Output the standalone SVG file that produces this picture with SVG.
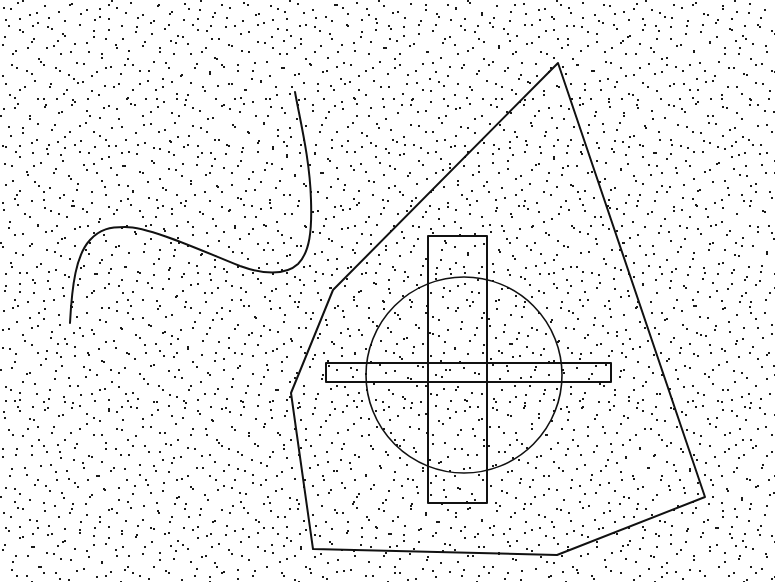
<svg xmlns="http://www.w3.org/2000/svg" width="775" height="582" viewBox="0 0 775 582">
<style>
.ln{fill:none;stroke:#111;stroke-width:2;stroke-linejoin:round;stroke-linecap:round}
.dot{fill:#1a1a1a}
</style>
<defs>
<pattern id="nA" width="113" height="101" patternUnits="userSpaceOnUse">
<path class="dot" d="M3 7h2v2h-2zM17 2h2v2h-2zM29 14h2v2h-2zM44 5h2v2h-2zM58 11h2v2h-2zM71 3h2v2h-2zM86 9h2v2h-2zM99 16h2v2h-2zM108 4h2v2h-2zM8 25h2v2h-2zM22 31h2v2h-2zM37 22h2v2h-2zM51 28h2v2h-2zM64 35h2v2h-2zM79 24h2v2h-2zM93 30h2v2h-2zM105 38h2v2h-2zM2 44h2v2h-2zM15 50h2v2h-2zM31 41h2v2h-2zM46 47h2v2h-2zM60 53h2v2h-2zM74 43h2v2h-2zM88 51h2v2h-2zM101 57h2v2h-2zM11 64h2v2h-2zM26 70h2v2h-2zM40 61h2v2h-2zM55 67h2v2h-2zM68 74h2v2h-2zM83 63h2v2h-2zM96 71h2v2h-2zM110 66h2v2h-2zM5 83h2v2h-2zM19 89h2v2h-2zM34 80h2v2h-2zM49 86h2v2h-2zM63 93h2v2h-2zM77 82h2v2h-2zM91 90h2v2h-2zM104 85h2v2h-2zM14 97h2v2h-2zM43 98h2v2h-2zM72 99h2v2h-2zM57 40h2v2h-2z"/>
</pattern>
<pattern id="nB" width="89" height="127" patternUnits="userSpaceOnUse" patternTransform="translate(41 23)">
<path class="dot" d="M6 3h2v2h-2zM21 10h2v2h-2zM38 1h2v2h-2zM52 13h2v2h-2zM67 6h2v2h-2zM81 15h2v2h-2zM12 22h2v2h-2zM29 28h2v2h-2zM45 19h2v2h-2zM60 30h2v2h-2zM75 24h2v2h-2zM86 35h2v2h-2zM2 41h2v2h-2zM18 47h2v2h-2zM35 39h2v2h-2zM50 52h2v2h-2zM64 44h2v2h-2zM79 50h2v2h-2zM9 60h2v2h-2zM25 66h2v2h-2zM41 58h2v2h-2zM57 71h2v2h-2zM72 63h2v2h-2zM85 75h2v2h-2zM4 81h2v2h-2zM20 88h2v2h-2zM33 78h2v2h-2zM48 92h2v2h-2zM62 84h2v2h-2zM77 95h2v2h-2zM13 101h2v2h-2zM28 108h2v2h-2zM44 99h2v2h-2zM58 112h2v2h-2zM70 104h2v2h-2zM84 116h2v2h-2zM7 121h2v2h-2zM23 124h2v2h-2zM39 117h2v2h-2zM53 123h2v2h-2zM67 122h2v2h-2zM80 2h2v2h-2zM32 55h2v2h-2zM15 75h2v2h-2zM46 75h2v2h-2z"/>
</pattern>
</defs>
<rect width="775" height="582" fill="#fff"/>
<rect width="775" height="582" fill="url(#nA)"/>
<rect width="775" height="582" fill="url(#nB)"/>
<g id="curve">
<path class="ln" d="M70,323 C72,285 76,255 90,240 C100,229 110,227 125,227 C150,227 200,250 240,266 C262,274 285,276 298,264 C310,252 312,230 311,200 C310,160 300,120 295,92"/>
</g>
<g id="polygon">
<path class="ln" d="M558,63 L705,497 L557,555 L313,549 L291,393 L333,290 Z"/>
</g>
<g id="circle">
<circle class="ln" cx="464" cy="375" r="98" style="stroke-width:1.6"/>
</g>
<g id="vertical-bar">
<rect class="ln" x="428" y="236" width="59" height="267"/>
</g>
<g id="horizontal-bar">
<rect class="ln" x="326" y="363" width="285" height="19"/>
</g>
</svg>
